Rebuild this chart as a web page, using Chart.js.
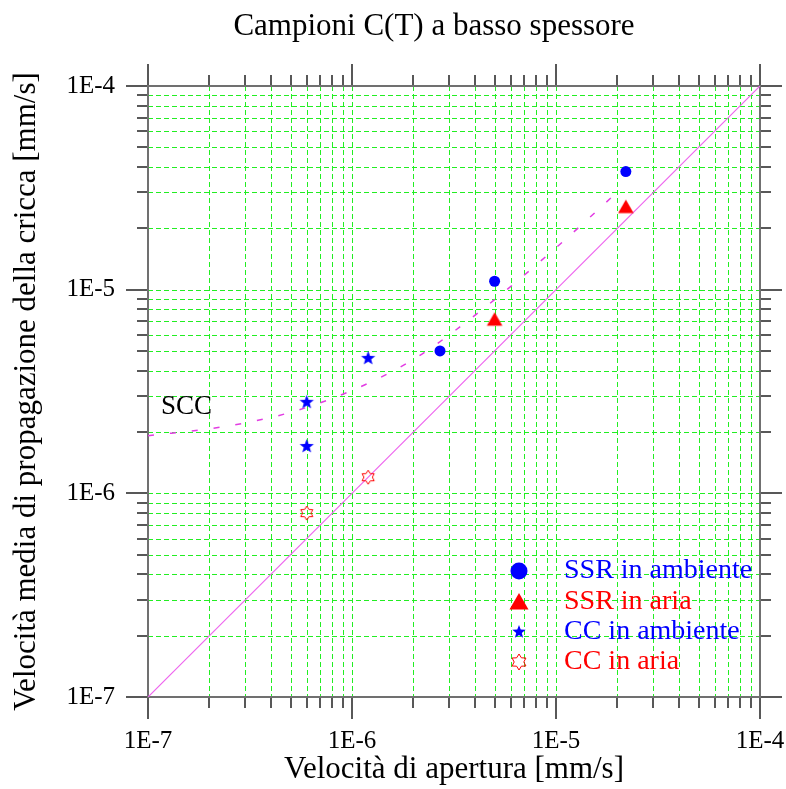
<!DOCTYPE html>
<html>
<head>
<meta charset="utf-8">
<script src="https://cdn.jsdelivr.net/npm/chart.js@4/dist/chart.umd.min.js"></script>
<style>
  html, body { margin: 0; padding: 0; background: #fff; }
  #wrap { width: 786px; height: 789px; }
</style>
</head>
<body>
<div id="wrap"><canvas id="scc-chart" width="786" height="789"></canvas></div>
<script>
(() => {
  const chartTitle = 'Campioni C(T) a basso spessore';
  const xTitle = 'Velocità di apertura [mm/s]';
  const yTitle = 'Velocità media di propagazione della cricca [mm/s]';
  const sccLabel = 'SCC';
  const axisMin = 1e-7;
  const axisMax = 1e-4;
  const decades = [-7, -6, -5];

  // SSR in ambiente (blue dots)
  const ssrAmbX = [2.2e-5, 5.0e-6, 2.7e-6];
  const ssrAmbY = [3.8e-5, 1.1e-5, 5.0e-6];
  // SSR in aria (red triangles)
  const ssrAriaX = [2.2e-5, 5.0e-6];
  const ssrAriaY = [2.5e-5, 7.0e-6];
  // CC in ambiente (blue stars)
  const ccAmbX = [1.2e-6, 6.0e-7, 6.0e-7];
  const ccAmbY = [4.6e-6, 2.8e-6, 1.7e-6];
  // CC in aria (red hollow stars)
  const ccAriaX = [1.2e-6, 6.0e-7];
  const ccAriaY = [1.2e-6, 8.0e-7];
  // SCC dashed curve
  const sccX = [1e-7, 2.25e-7, 4.8e-7, 1e-6, 2e-6, 3.1e-6, 5.6e-6, 1.08e-5, 2.06e-5];
  const sccY = [1.92e-6, 2.11e-6, 2.47e-6, 3.2e-6, 4.54e-6, 6.15e-6, 9.8e-6, 1.72e-5, 3.1e-5];
  // y = x
  const diagX = [1e-7, 1e-4];
  const diagY = [1e-7, 1e-4];

  const legendLabels = ['SSR in ambiente', 'SSR in aria', 'CC in ambiente', 'CC in aria'];
  const legendColors = ['#0000ff', '#ff0000', '#0000ff', '#ff0000'];

  const serif = "'Liberation Serif', 'Times New Roman', serif";
  const blue = '#0000ff';
  const red = '#ff0000';
  const magenta = '#e23ce2';

  const toPoints = (xs, ys) => xs.map((x, i) => ({ x, y: ys[i] }));

  const starPath = (ctx, cx, cy, outer, inner, n) => {
    ctx.beginPath();
    for (let i = 0; i < n * 2; i++) {
      const r = i % 2 ? inner : outer;
      const a = -Math.PI / 2 + i * Math.PI / n;
      const px = cx + r * Math.cos(a);
      const py = cy + r * Math.sin(a);
      if (i === 0) ctx.moveTo(px, py); else ctx.lineTo(px, py);
    }
    ctx.closePath();
  };

  const drawShape = (ctx, kind, cx, cy, r) => {
    ctx.save();
    if (kind === 'circle') {
      ctx.fillStyle = blue;
      ctx.beginPath();
      ctx.arc(cx, cy, r, 0, Math.PI * 2);
      ctx.fill();
    } else if (kind === 'triangle') {
      ctx.fillStyle = red;
      ctx.beginPath();
      ctx.moveTo(cx, cy - r);
      ctx.lineTo(cx + r * 0.866, cy + r * 0.5);
      ctx.lineTo(cx - r * 0.866, cy + r * 0.5);
      ctx.closePath();
      ctx.fill();
    } else if (kind === 'star') {
      ctx.fillStyle = blue;
      starPath(ctx, cx, cy, r, r * 0.42, 5);
      ctx.fill();
    } else {
      ctx.strokeStyle = red;
      ctx.lineWidth = 1;
      starPath(ctx, cx, cy, r, r * 0.6, 6);
      ctx.stroke();
    }
    ctx.restore();
  };

  const markerCanvas = (kind, r) => {
    const c = document.createElement('canvas');
    c.width = c.height = Math.ceil(r * 2 + 4);
    drawShape(c.getContext('2d'), kind, c.width / 2, c.height / 2, r);
    return c;
  };

  const tickValues = [];
  decades.forEach((e) => {
    for (let m = 1; m <= 9; m++) tickValues.push({ v: m * Math.pow(10, e), major: m === 1 });
  });
  tickValues.push({ v: axisMax, major: true });

  const isDecade = (v) => Math.abs(Math.log10(v) - Math.round(Math.log10(v))) < 1e-6;

  const framePlugin = {
    id: 'frame',
    beforeDatasetsDraw(chart) {
      const { ctx, chartArea: a, scales: { x, y } } = chart;
      ctx.save();
      // green dashed grid
      ctx.strokeStyle = '#22ee22';
      ctx.lineWidth = 1;
      ctx.setLineDash([5, 3]);
      tickValues.forEach(({ v }) => {
        const px = Math.round(x.getPixelForValue(v)) + 0.5;
        const py = Math.round(y.getPixelForValue(v)) + 0.5;
        if (px > a.left + 1 && px < a.right - 1) {
          ctx.beginPath(); ctx.moveTo(px, a.top); ctx.lineTo(px, a.bottom); ctx.stroke();
        }
        if (py > a.top + 1 && py < a.bottom - 1) {
          ctx.beginPath(); ctx.moveTo(a.left, py); ctx.lineTo(a.right, py); ctx.stroke();
        }
      });
      ctx.setLineDash([]);
      // outer ticks
      ctx.strokeStyle = '#222';
      ctx.lineWidth = 1.5;
      tickValues.forEach(({ v, major }) => {
        const len = major ? 22 : 11;
        const px = Math.round(x.getPixelForValue(v));
        const py = Math.round(y.getPixelForValue(v));
        ctx.beginPath();
        ctx.moveTo(px, a.bottom); ctx.lineTo(px, a.bottom + len);
        ctx.moveTo(px, a.top); ctx.lineTo(px, a.top - len);
        ctx.moveTo(a.left, py); ctx.lineTo(a.left - len, py);
        ctx.moveTo(a.right, py); ctx.lineTo(a.right + len, py);
        ctx.stroke();
      });
      // frame
      ctx.strokeStyle = '#707070';
      ctx.lineWidth = 2;
      ctx.strokeRect(a.left, a.top, a.right - a.left, a.bottom - a.top);
      ctx.restore();
    },
    afterDatasetsDraw(chart) {
      const { ctx, chartArea: a } = chart;
      ctx.save();
      ctx.fillStyle = '#000';
      ctx.textBaseline = 'middle';
      ctx.textAlign = 'center';
      ctx.font = `31px ${serif}`;
      ctx.fillText(chartTitle, (a.left + a.right) / 2 - 20, 27);
      ctx.textAlign = 'left';
      ctx.font = `27px ${serif}`;
      ctx.fillText(sccLabel, a.left + 13, 407);
      // legend
      const kinds = ['circle', 'triangle', 'star', 'hexagram'];
      const sizes = [8.5, 11, 7, 8];
      const mx = a.right - 241;
      const rows = [126, 95, 65, 35];
      ctx.font = `28px ${serif}`;
      legendLabels.forEach((label, i) => {
        const my = a.bottom - rows[i];
        drawShape(ctx, kinds[i], mx, my + (kinds[i] === 'triangle' ? 2 : 0), sizes[i]);
        ctx.fillStyle = legendColors[i];
        ctx.fillText(label, mx + 45, my);
      });
      ctx.restore();
    }
  };

  const axisCommon = (titleText) => ({
    type: 'logarithmic',
    min: axisMin,
    max: axisMax,
    grid: { display: false, drawTicks: false },
    border: { display: false },
    title: { display: true, text: titleText, color: '#000', font: { family: serif, size: 31 } },
    ticks: {
      autoSkip: false,
      maxRotation: 0,
      color: '#000',
      font: { family: serif, size: 25 },
      callback: (v) => isDecade(v) ? '1E' + Math.round(Math.log10(v)) : ''
    }
  });

  const xAxis = axisCommon(xTitle);
  xAxis.ticks.padding = 29;
  xAxis.title.padding = { top: 0, bottom: 1 };
  xAxis.afterFit = (scale) => {
    scale.height = 92;
    scale.paddingLeft = 0;
    scale.paddingRight = 0;
  };

  const yAxis = axisCommon(yTitle);
  yAxis.ticks.padding = 33;
  yAxis.title.padding = { top: 8, bottom: 0 };
  yAxis.afterFit = (scale) => {
    scale.width = 148;
    scale.paddingTop = 0;
    scale.paddingBottom = 0;
  };

  const canvasCtx = document.getElementById('scc-chart').getContext('2d');
  new Chart(canvasCtx, {
    type: 'scatter',
    data: {
      datasets: [
        {
          label: legendLabels[0],
          data: toPoints(ssrAmbX, ssrAmbY),
          pointStyle: 'circle',
          pointRadius: 5.5,
          backgroundColor: blue,
          borderWidth: 0
        },
        {
          label: legendLabels[1],
          data: toPoints(ssrAriaX, ssrAriaY),
          pointStyle: markerCanvas('triangle', 9),
          pointRadius: 9
        },
        {
          label: legendLabels[2],
          data: toPoints(ccAmbX, ccAmbY),
          pointStyle: markerCanvas('star', 7.5),
          pointRadius: 7
        },
        {
          label: legendLabels[3],
          data: toPoints(ccAriaX, ccAriaY),
          pointStyle: markerCanvas('hexagram', 7),
          pointRadius: 7
        },
        {
          label: sccLabel,
          data: toPoints(sccX, sccY),
          showLine: true,
          pointRadius: 0,
          borderColor: magenta,
          borderWidth: 1.5,
          borderDash: [6, 16],
          cubicInterpolationMode: 'monotone'
        },
        {
          label: 'y = x',
          data: toPoints(diagX, diagY),
          showLine: true,
          pointRadius: 0,
          borderColor: '#ee66ee',
          borderWidth: 1.2
        }
      ]
    },
    options: {
      responsive: false,
      animation: false,
      layout: { padding: { top: 86, right: 26, bottom: 0, left: 0 } },
      plugins: {
        legend: { display: false },
        tooltip: { enabled: false },
        title: { display: false }
      },
      scales: { x: xAxis, y: yAxis }
    },
    plugins: [framePlugin]
  });
})();
</script>
</body>
</html>
